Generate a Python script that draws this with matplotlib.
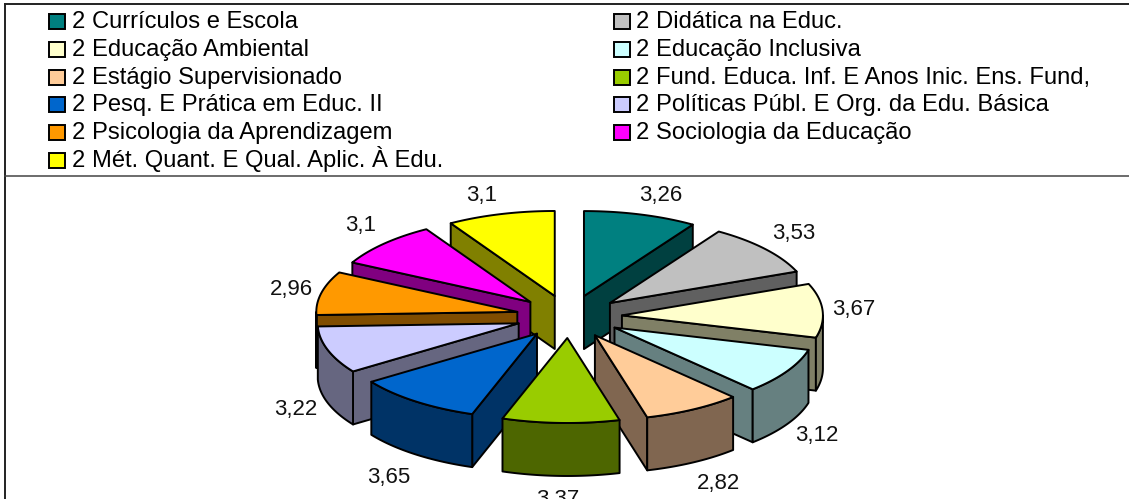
import numpy as np
import matplotlib
matplotlib.use("Agg")
import matplotlib.pyplot as plt
from matplotlib.patches import Polygon, Rectangle

categories = ["2 Currículos e Escola", "2 Didática na Educ.", "2 Educação Ambiental",
              "2 Educação Inclusiva", "2 Estágio Supervisionado",
              "2 Fund. Educa. Inf. E Anos Inic. Ens. Fund,", "2 Pesq. E Prática em Educ. II",
              "2 Políticas Públ. E Org. da Edu. Básica", "2 Psicologia da Aprendizagem",
              "2 Sociologia da Educação", "2 Mét. Quant. E Qual. Aplic. À Edu."]
values = [3.26, 3.53, 3.67, 3.12, 2.82, 3.37, 3.65, 3.22, 2.96, 3.1, 3.1]
value_labels = ["3,26", "3,53", "3,67", "3,12", "2,82", "3,37", "3,65", "3,22", "2,96", "3,1", "3,1"]
face_colors = ["#008080", "#C0C0C0", "#FFFFCC", "#CCFFFF", "#FFCC99", "#99CC00",
               "#0066CC", "#CCCCFF", "#FF9900", "#FF00FF", "#FFFF00"]
side_colors = ["#004040", "#606060", "#808066", "#668080", "#806650", "#4D6600",
               "#003366", "#666680", "#804D00", "#800080", "#808000"]
label_xy = [(661, 195), (794, 234), (854, 310), (817, 435), (719, 484), (558, 500),
            (389, 477), (296, 409), (291, 289), (361, 225), (482, 195)]

CX, CY, RX, RY, EX, EY, DEPTH = 569, 316.6, 201, 85, 53, 21.4, 53
LW = 1.4

plt.rcParams["font.family"] = ["Liberation Sans", "DejaVu Sans"]
fig = plt.figure(figsize=(11.29, 4.99), dpi=100)
ax = fig.add_axes([0, 0, 1, 1])
ax.set_xlim(0, 1129)
ax.set_ylim(499, 0)
ax.axis("off")

# frame
ax.plot([4.5, 4.5], [499, 4], color="#222222", lw=LW)
ax.plot([4.5, 1129], [4, 4], color="#222222", lw=LW)
ax.plot([4.5, 1129], [175.5, 175.5], color="#444444", lw=1.1)

# legend
baselines = [28, 56, 84, 111, 139, 167]
col_sw = [49, 614]
col_tx = [72, 636]
for i, name in enumerate(categories):
    col, row = i % 2, i // 2
    ax.add_patch(Rectangle((col_sw[col], baselines[row] - 14.5), 16, 15, fc=face_colors[i],
                           ec="black", lw=LW))
    ax.text(col_tx[col], baselines[row], name, fontsize=17.15, va="baseline", ha="left", color="black")

# pie geometry from the values
edges = np.concatenate([[0], np.cumsum(values)]) / np.sum(values) * 2 * np.pi
mids = (edges[:-1] + edges[1:]) / 2


def point(ox, oy, t):
    return ox + RX * np.sin(t), oy - RY * np.cos(t)


def poly(xy, fc, z):
    ax.add_patch(Polygon(xy, closed=True, fc=fc, ec="black", lw=LW, joinstyle="round", zorder=z))


order = np.argsort(-np.cos(mids))
for z, i in enumerate(order):
    a, b = edges[i], edges[i + 1]
    ox, oy = CX + EX * np.sin(mids[i]), CY - EY * np.cos(mids[i])
    zz = 3 + z
    for t, vis in ((a, np.sin(a) < 0), (b, np.sin(b) > 0)):
        if vis:
            px, py = point(ox, oy, t)
            poly([(ox, oy), (px, py), (px, py + DEPTH), (ox, oy + DEPTH)], side_colors[i], zz)
    lo, hi = max(a, np.pi / 2), min(b, 3 * np.pi / 2)
    if hi > lo:
        ts = np.linspace(lo, hi, 60)
        xs, ys = point(ox, oy, ts)
        poly(np.r_[np.c_[xs, ys], np.c_[xs[::-1], ys[::-1] + DEPTH]], side_colors[i], zz)
    ts = np.linspace(a, b, 80)
    xs, ys = point(ox, oy, ts)
    poly(np.r_[[(ox, oy)], np.c_[xs, ys]], face_colors[i], zz)

for txt, (x, y) in zip(value_labels, label_xy):
    ax.text(x, y, txt, fontsize=16, ha="center", va="center", color="#111111", zorder=50)

fig.savefig("out.png", dpi=100)
